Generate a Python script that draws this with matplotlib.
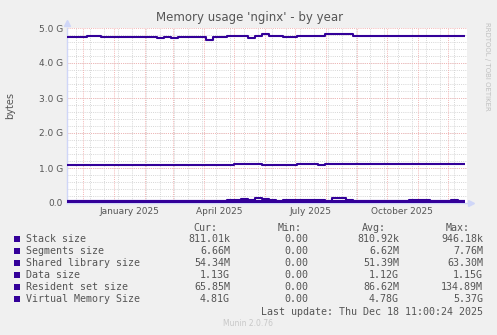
"""Munin-style yearly memory usage graph for nginx."""

import datetime as dt

import matplotlib
import matplotlib.dates as mdates
import matplotlib.pyplot as plt
import pandas as pd
from matplotlib.patches import Rectangle

matplotlib.use("Agg")

# weekly samples, Nov 14 2024 .. Dec 18 2025
SAMPLE_START = "2024-11-14"
N_SAMPLES = 58

# values in GB
vms_size = [
    4.73, 4.73, 4.73, 4.76, 4.76, 4.73, 4.73, 4.73, 4.73, 4.73,
    4.73, 4.73, 4.73, 4.72, 4.73, 4.72, 4.73, 4.73, 4.74, 4.73,
    4.66, 4.73, 4.73, 4.76, 4.76, 4.78, 4.71, 4.78, 4.82, 4.77,
    4.77, 4.75, 4.75, 4.78, 4.78, 4.78, 4.76, 4.82, 4.82, 4.82,
    4.82, 4.77, 4.77, 4.77, 4.77, 4.77, 4.77, 4.77, 4.77, 4.77,
    4.77, 4.77, 4.77, 4.77, 4.77, 4.77, 4.77, 4.77,
]
data_size = [
    1.10, 1.10, 1.10, 1.10, 1.10, 1.08, 1.09, 1.10, 1.09, 1.10,
    1.10, 1.10, 1.10, 1.10, 1.09, 1.10, 1.10, 1.10, 1.10, 1.09,
    1.09, 1.10, 1.10, 1.10, 1.12, 1.11, 1.12, 1.11, 1.10, 1.10,
    1.10, 1.10, 1.10, 1.12, 1.12, 1.12, 1.09, 1.12, 1.12, 1.12,
    1.12, 1.11, 1.12, 1.12, 1.12, 1.12, 1.12, 1.11, 1.12, 1.12,
    1.12, 1.12, 1.12, 1.12, 1.12, 1.12, 1.12, 1.12,
]
rss_size = [
    0.06, 0.06, 0.06, 0.06, 0.06, 0.06, 0.06, 0.06, 0.07, 0.06,
    0.06, 0.06, 0.06, 0.06, 0.06, 0.06, 0.06, 0.06, 0.06, 0.06,
    0.06, 0.06, 0.06, 0.08, 0.09, 0.12, 0.10, 0.13, 0.11, 0.08,
    0.07, 0.08, 0.08, 0.09, 0.09, 0.08, 0.10, 0.07, 0.13, 0.13,
    0.08, 0.07, 0.07, 0.07, 0.07, 0.07, 0.07, 0.07, 0.07, 0.09,
    0.09, 0.08, 0.07, 0.07, 0.07, 0.08, 0.07, 0.07,
]
shared_lib_size = [0.050] * 23 + [0.055] * 20 + [0.054] * 15
segments_size = [0.0066] * 58
stack_size = [0.0008] * 58

legend_labels = [
    "Stack size", "Segments size", "Shared library size",
    "Data size", "Resident set size", "Virtual Memory Size",
]
cur_vals = ["811.01k", "6.66M", "54.34M", "1.13G", "65.85M", "4.81G"]
min_vals = ["0.00"] * 6
avg_vals = ["810.92k", "6.62M", "51.39M", "1.12G", "86.62M", "4.78G"]
max_vals = ["946.18k", "7.76M", "63.30M", "1.15G", "134.89M", "5.37G"]

y_ticks = [0, 1, 2, 3, 4, 5]
y_ticklabels = ["0.0", "1.0 G", "2.0 G", "3.0 G", "4.0 G", "5.0 G"]
x_labels = ["January 2025", "April 2025", "July 2025", "October 2025"]
x_label_dates = ["2025-01-16", "2025-04-16", "2025-07-16", "2025-10-16"]

LINE = "#330099"
FONT = "#555555"
AXIS = "#CFD6F8"
W, H = 497, 335

fig = plt.figure(figsize=(W / 100, H / 100), dpi=100, facecolor="#F0F0F0")
ax = fig.add_axes([67 / W, 1 - 203 / H, 400 / W, 175 / H], facecolor="white")

x0 = mdates.date2num(dt.date(2024, 11, 15))
x1 = mdates.date2num(dt.date(2025, 12, 20))
ax.set_xlim(x0, x1)
ax.set_ylim(0, 5)

# grid: minor gray every 0.2G / two weeks, major red at 1G / month starts
MINOR = dict(color="#D6D6D6", lw=0.7, ls=(0, (1, 1.2)), zorder=0)
MAJOR = dict(color="#F3B4B4", lw=0.7, ls=(0, (1, 1.2)), zorder=0.5)
for d in pd.date_range("2024-11-24", "2025-12-20", freq="14D"):
    ax.axvline(mdates.date2num(d), **MINOR)
for v in [i / 5 for i in range(1, 25)]:
    ax.axhline(v, **MINOR)
for d in pd.date_range("2024-12-01", "2025-12-01", freq="MS"):
    ax.axvline(mdates.date2num(d), **MAJOR)
for v in y_ticks[1:]:
    ax.axhline(v, **MAJOR)

dates = mdates.date2num(pd.date_range(SAMPLE_START, periods=N_SAMPLES, freq="7D"))
for series in [stack_size, segments_size, shared_lib_size, data_size, rss_size, vms_size]:
    ax.plot(dates, series, color=LINE, lw=1.5, drawstyle="steps-post", zorder=3,
            solid_capstyle="butt")

for side in ["top", "right"]:
    ax.spines[side].set_visible(False)
for side in ["left", "bottom"]:
    ax.spines[side].set_color(AXIS)
    ax.spines[side].set_linewidth(1)
ax.plot([0], [1.03], marker="^", ms=4, color=AXIS, transform=ax.transAxes, clip_on=False)
ax.plot([1.01], [0], marker=">", ms=4, color=AXIS, transform=ax.transAxes, clip_on=False)

ax.set_yticks(y_ticks)
ax.set_yticklabels(y_ticklabels)
ax.set_xticks([mdates.date2num(pd.Timestamp(d)) for d in x_label_dates])
ax.set_xticklabels(x_labels)
ax.tick_params(length=0, labelsize=6.5, labelcolor=FONT, pad=3)

fig.text(250 / W, 1 - 18 / H, "Memory usage 'nginx' - by year", ha="center", va="center",
         fontsize=8.5, color=FONT)
fig.text(10 / W, 1 - 106 / H, "bytes", rotation=90, ha="center", va="center",
         fontsize=7, color=FONT)
fig.text(487 / W, 1 - 66 / H, "RRDTOOL / TOBI OETIKER", rotation=270, ha="center",
         va="center", fontsize=5, color="#C0C0C0")

mono = dict(family="DejaVu Sans Mono", fontsize=7.2, color=FONT, va="center")
row_y = [239, 251, 263, 275, 287, 299]
fig.text(217 / W, 1 - 228 / H, "Cur:", ha="right", **mono)
fig.text(302 / W, 1 - 228 / H, "Min:", ha="right", **mono)
fig.text(386 / W, 1 - 228 / H, "Avg:", ha="right", **mono)
fig.text(470 / W, 1 - 228 / H, "Max:", ha="right", **mono)
for i, label in enumerate(legend_labels):
    y = 1 - row_y[i] / H
    fig.patches.append(Rectangle((14 / W, y - 3 / H), 6 / W, 6 / H, facecolor=LINE,
                                 edgecolor="none", transform=fig.transFigure))
    fig.text(26 / W, y, label, ha="left", **mono)
    fig.text(230 / W, y, cur_vals[i], ha="right", **mono)
    fig.text(308 / W, y, min_vals[i], ha="right", **mono)
    fig.text(399 / W, y, avg_vals[i], ha="right", **mono)
    fig.text(483 / W, y, max_vals[i], ha="right", **mono)
fig.text(483 / W, 1 - 312 / H, "Last update: Thu Dec 18 11:00:24 2025", ha="right", **mono)
fig.text(248 / W, 1 - 324 / H, "Munin 2.0.76", ha="center", va="center",
         fontsize=5.5, color="#C8C8C8")

fig.savefig("out.png", dpi=100, facecolor=fig.get_facecolor())
